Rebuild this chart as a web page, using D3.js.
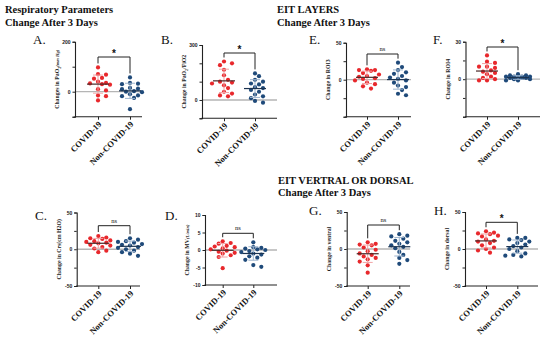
<!DOCTYPE html>
<html>
<head>
<meta charset="utf-8">
<script src="https://cdn.jsdelivr.net/npm/d3@7"></script>
<style>
  body { margin: 0; background: #fff; }
  svg { display: block; }
</style>
</head>
<body>
<svg id="fig" width="550" height="339"></svg>
<script>
// groups on the x axis
const categories = ['COVID-19', 'Non-COVID-19']

// A. change in PaO2 (mm Hg)
const pao2Covid = [97, 70, 68, 55, 52, 40, 35, 33, 30, 28, 10, 5, -15, -18, -35]
const pao2NonCovid = [57, 35, 32, 30, 15, 12, 10, 2, 0, -2, -10, -15, -18, -25, -70]
// B. change in PaO2/FiO2
const pfCovid = [210, 200, 190, 165, 135, 110, 100, 95, 90, 80, 65, 45, 35, 25, 20]
const pfNonCovid = [145, 130, 110, 100, 90, 85, 70, 65, 55, 45, 30, 20, 10, -5, -15]
// C. change in compliance
const crsCovid = [18, 16, 15, 14, 12, 11, 10, 9, 8, 6, 5, 3, 1, -2, -4]
const crsNonCovid = [15, 13, 11, 10, 9, 7, 6, 5, 3, 2, 0, -2, -4, -6, -9]
// D. change in MV (L/min)
const mvCovid = [2.5, 2.0, 1.8, 1.2, 1.0, 0.8, 0.5, 0.2, -0.2, -0.5, -0.8, -1.0, -1.5, -2.0, -5.2]
const mvNonCovid = [2.2, 0.8, 0.6, 0.4, 0.2, 0, -0.3, -0.6, -1.0, -1.3, -1.8, -2.2, -2.8, -4.3, -4.8]
// E. change in ROI3
const roi3Covid = [14, 13, 13, 12, 9, 7, 5, 4, 2, 1, -1, -4, -6, -9, -12]
const roi3NonCovid = [23, 17, 13, 10, 8, 5, 3, 1, -1, -4, -8, -10, -14, -19, -21]
// F. change in ROI4
const roi4Covid = [19, 14, 13, 10, 10, 9, 7, 6, 5, 4, 2, 1, 0, -1, -1]
const roi4NonCovid = [4, 3, 3, 2, 2, 2, 2, 1, 1, 1, 1, 0, 0, -1, -1]
// G. change in ventral
const ventralCovid = [9, 7, 6, 5, 2, -1, -3, -6, -8, -10, -12, -14, -17, -22, -32]
const ventralNonCovid = [20, 18, 17, 14, 11, 9, 7, 5, 3, 1, -4, -8, -12, -15, -20]
// H. change in dorsal
const dorsalCovid = [24, 22, 21, 20, 18, 17, 13, 11, 10, 8, 5, 2, 0, -2, -5]
const dorsalNonCovid = [15, 15, 13, 12, 10, 8, 6, 4, 2, 0, -3, -6, -8, -10, -9]

const colors = {
  dot: ['#e8282c', '#1f4a7a'],
  sd: ['#f2a3a5', '#9db4ce'],
  mean: ['#4a2828', '#1b3350']
}
const serif = "'Liberation Serif', 'Times New Roman', 'DejaVu Serif', serif"
const sans = "'Liberation Sans', Arial, sans-serif"

const panels = [
  { letter: 'A.', label: [['Changes in PaO'], ['2', 'sub'], ['(mm Hg)', 'small']], data: [pao2Covid, pao2NonCovid],
    domain: [-100, 200], ticks: [-100, 0, 100, 200], labeled: [0, 200], sig: '*',
    box: { axisX: 75, cat0: 98, cat1: 130, xEnd: 142, top: 41.7, bottom: 116.7, bracketY: 57, lx: 33, ly: 44 } },
  { letter: 'B.', label: [['Change in PaO'], ['2', 'sub'], ['/FiO2']], data: [pfCovid, pfNonCovid],
    domain: [-100, 300], ticks: [-100, 0, 100, 200, 300], labeled: [0, 300], sig: '*',
    box: { axisX: 202, cat0: 224, cat1: 255, xEnd: 277, top: 45, bottom: 118.3, bracketY: 53, lx: 161, ly: 44 } },
  { letter: 'E.', label: [['Change in ROI3']], data: [roi3Covid, roi3NonCovid],
    domain: [-50, 50], ticks: [-50, -25, 0, 25, 50], labeled: [0, 50], sig: 'ns',
    box: { axisX: 346, cat0: 367, cat1: 398, xEnd: 411, top: 42.7, bottom: 116.7, bracketY: 54, lx: 309, ly: 44 } },
  { letter: 'F.', label: [['Change in ROI4']], data: [roi4Covid, roi4NonCovid],
    domain: [-30, 30], ticks: [-30, -15, 0, 15, 30], labeled: [0, 30], sig: '*',
    box: { axisX: 465.5, cat0: 487, cat1: 518, xEnd: 540, top: 41.7, bottom: 116.7, bracketY: 47, lx: 433, ly: 44 } },
  { letter: 'C.', label: [['Change in Crs(cm H2O)']], data: [crsCovid, crsNonCovid],
    domain: [-50, 50], ticks: [-50, -25, 0, 25, 50], labeled: [-50, 0, 50], sig: 'ns',
    box: { axisX: 76.7, cat0: 98.3, cat1: 130, xEnd: 140, top: 212.5, bottom: 286, bracketY: 225.7, lx: 35, ly: 220 } },
  { letter: 'D.', label: [['Change in MV'], ['(L/min)', 'small']], data: [mvCovid, mvNonCovid],
    domain: [-10, 10], ticks: [-10, -5, 0, 5, 10], labeled: [-10, -5, 0, 5, 10], sig: 'ns',
    box: { axisX: 205, cat0: 222.7, cat1: 253.3, xEnd: 277, top: 215, bottom: 285, bracketY: 233.3, lx: 165, ly: 220 } },
  { letter: 'G.', label: [['Change in  ventral']], data: [ventralCovid, ventralNonCovid],
    domain: [-50, 50], ticks: [-50, -25, 0, 25, 50], labeled: [-50, 0, 50], sig: 'ns',
    box: { axisX: 346.7, cat0: 367.7, cat1: 399.3, xEnd: 410, top: 212, bottom: 286, bracketY: 225, lx: 309, ly: 215 } },
  { letter: 'H.', label: [['Change in  dorsal']], data: [dorsalCovid, dorsalNonCovid],
    domain: [-50, 50], ticks: [-50, -25, 0, 25, 50], labeled: [-50, 0, 50], sig: '*',
    box: { axisX: 465, cat0: 486, cat1: 517.3, xEnd: 538, top: 212, bottom: 286, bracketY: 222.3, lx: 434, ly: 215 } }
]

const titles = [
  { x: 5, y: 13, text: 'Respiratory Parameters' },
  { x: 5, y: 26, text: 'Change After 3 Days' },
  { x: 277, y: 13, text: 'EIT LAYERS' },
  { x: 277, y: 26, text: 'Change After 3 Days' },
  { x: 278, y: 183.5, text: 'EIT VERTRAL OR DORSAL' },
  { x: 278, y: 196, text: 'Change After 3 Days' }
]

const svg = d3.select('#fig')

svg.selectAll('.title')
  .data(titles)
  .enter()
  .append('text')
  .attr('class', 'title')
  .attr('x', d => d.x)
  .attr('y', d => d.y)
  .style('font-family', serif)
  .style('font-weight', 'bold')
  .style('font-size', '10.5px')
  .attr('fill', '#111')
  .text(d => d.text)

// beeswarm kept inside +-12px: take the first free slot, else the least crowded one
function swarm (values, y, cx) {
  const placed = []
  const offsets = [0, 4, -4, 8, -8, 12, -12]
  const minD = 4.6
  return d3.sort(values, (a, b) => b - a).map(v => {
    const py = y(v)
    let best = null
    let bestD = -1
    for (const off of offsets) {
      const px = cx + off
      const dMin = placed.length ? d3.min(placed, p => Math.hypot(p[0] - px, p[1] - py)) : Infinity
      if (dMin >= minD) { best = px; break }
      if (dMin > bestD) { bestD = dMin; best = px }
    }
    placed.push([best, py])
    return { x: best, y: py, v: v }
  })
}

function drawPanel (p) {
  const b = p.box
  const g = svg.append('g')
  const x = d3.scalePoint().domain(categories).range([b.cat0, b.cat1])
  const y = d3.scaleLinear().domain(p.domain).range([b.bottom, b.top])

  // panel letter
  g.append('text')
    .attr('x', b.lx)
    .attr('y', b.ly)
    .style('font-family', serif)
    .style('font-size', '13px')
    .attr('fill', '#111')
    .text(p.letter)

  // zero reference line
  g.append('line')
    .attr('x1', b.axisX).attr('x2', b.xEnd)
    .attr('y1', y(0)).attr('y2', y(0))
    .attr('stroke', '#b5b5b5')
    .attr('stroke-width', 1.3)

  // y axis
  const yAxis = g.append('g')
    .attr('transform', `translate(${b.axisX},0)`)
    .call(d3.axisLeft(y).tickValues(p.ticks).tickSize(2.5).tickPadding(2)
      .tickFormat(d => p.labeled.includes(d) ? d : ''))
  yAxis.select('.domain').attr('stroke', '#222').attr('stroke-width', 1.1)
  yAxis.selectAll('.tick line').attr('stroke', '#222').attr('stroke-width', 1)
  yAxis.selectAll('.tick text')
    .style('font-family', sans)
    .style('font-weight', 'bold')
    .style('font-size', '5px')
    .attr('fill', '#222')

  // x axis: domain line drawn by hand so it can start at the y axis
  g.append('line')
    .attr('x1', b.axisX - 0.5).attr('x2', b.xEnd)
    .attr('y1', b.bottom).attr('y2', b.bottom)
    .attr('stroke', '#222')
    .attr('stroke-width', 1.1)
  const xAxis = g.append('g')
    .attr('transform', `translate(0,${b.bottom})`)
    .call(d3.axisBottom(x).tickSize(3).tickFormat(''))
  xAxis.select('.domain').remove()
  xAxis.selectAll('.tick line').attr('stroke', '#222').attr('stroke-width', 1)

  g.selectAll('.xlab')
    .data(categories)
    .enter()
    .append('text')
    .attr('class', 'xlab')
    .attr('transform', d => `translate(${x(d) + 4},${b.bottom + 8}) rotate(-45)`)
    .attr('text-anchor', 'end')
    .style('font-family', serif)
    .style('font-weight', 'bold')
    .style('font-size', '8.5px')
    .attr('fill', '#111')
    .text(d => d)

  // y label
  const lab = g.append('text')
    .attr('transform', `translate(${b.axisX - 16},${(b.top + b.bottom) / 2}) rotate(-90)`)
    .attr('text-anchor', 'middle')
    .style('font-family', serif)
    .style('font-weight', 'bold')
    .style('font-size', '5.8px')
    .attr('fill', '#222')
  p.label.forEach(part => {
    const t = lab.append('tspan').text(part[0])
    if (part[1] === 'sub') t.style('font-size', '4px').attr('baseline-shift', '-1.5px')
    if (part[1] === 'small') t.style('font-size', '4.6px').style('font-style', 'italic')
  })

  // groups
  p.data.forEach((vals, i) => {
    const cx = x(categories[i])
    const m = d3.mean(vals)
    const sd = d3.deviation(vals)
    const pts = swarm(vals, y, cx)

    g.selectAll('.dot' + i)
      .data(pts)
      .enter()
      .append('circle')
      .attr('cx', d => d.x)
      .attr('cy', d => d.y)
      .attr('r', 2.1)
      .attr('fill', colors.dot[i])

    // SD whiskers
    g.append('line')
      .attr('x1', cx).attr('x2', cx)
      .attr('y1', y(m + sd)).attr('y2', y(m - sd))
      .attr('stroke', colors.sd[i]).attr('stroke-width', 1)
    ;[m + sd, m - sd].forEach(v => {
      g.append('line')
        .attr('x1', cx - 5).attr('x2', cx + 5)
        .attr('y1', y(v)).attr('y2', y(v))
        .attr('stroke', colors.sd[i]).attr('stroke-width', 1)
    })
    // mean
    g.append('line')
      .attr('x1', cx - 11).attr('x2', cx + 11)
      .attr('y1', y(m)).attr('y2', y(m))
      .attr('stroke', colors.mean[i]).attr('stroke-width', 1.2)
  })

  // significance bracket
  const legEnds = p.data.map(vals => Math.max(y(d3.max(vals)) - 4, b.bracketY + 3))
  const x0 = x(categories[0])
  const x1 = x(categories[1])
  g.append('path')
    .attr('d', `M${x0},${legEnds[0]}V${b.bracketY}H${x1}V${legEnds[1]}`)
    .attr('fill', 'none')
    .attr('stroke', '#222')
    .attr('stroke-width', 1)
  g.append('text')
    .attr('x', (x0 + x1) / 2)
    .attr('y', p.sig === '*' ? b.bracketY - 0.5 : b.bracketY - 3)
    .attr('text-anchor', 'middle')
    .style('font-family', p.sig === '*' ? sans : serif)
    .style('font-weight', p.sig === '*' ? 'bold' : 'normal')
    .style('font-size', p.sig === '*' ? '10px' : '6.5px')
    .attr('fill', '#111')
    .text(p.sig)
}

panels.forEach(drawPanel)
</script>
</body>
</html>
